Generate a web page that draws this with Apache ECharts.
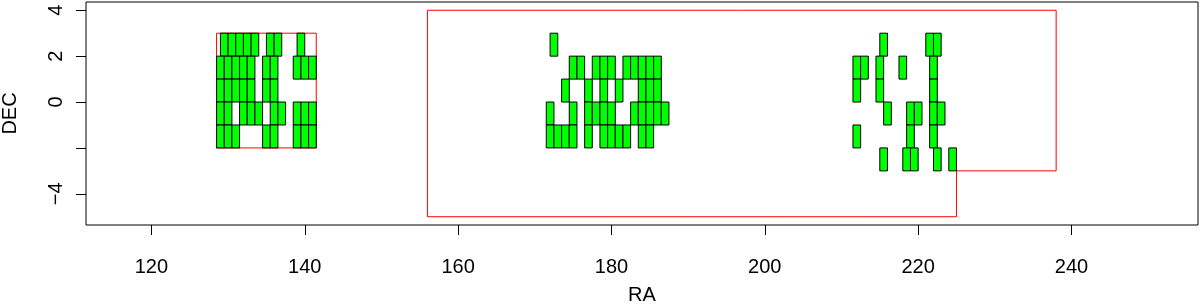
<!DOCTYPE html>
<html><head><meta charset="utf-8">
<script src="https://cdn.jsdelivr.net/npm/echarts@6/dist/echarts.min.js"></script>
<style>html,body{margin:0;padding:0;background:#fff}#c{width:1200px;height:305px}</style>
</head><body><div id="c"></div>
<script>
// Field (tile) size in degrees
const FIELD_W = 1;
const FIELD_H = 1;
// Left-edge RA of each observed field, per DEC row (row named by its lower DEC edge)
const raDecP2 = [129,130,131,132,133,135,136,139, 172, 215,221,222];
const raDecP1 = [128.5,129.5,130.5,131.5,132.5,134.5,135.5,138.5,139.5,140.5,
                 174.5,175.5,177.5,178.5,179.5,181.5,182.5,183.5,184.5,185.5,
                 211.5,212.5,214.5,217.5,221.5];
const raDec0  = [128.5,129.5,130.5,131.5,132.5,134.5,135.5,
                 173.5,176.5,178.5,180.5,183.5,184.5,185.5,
                 211.5,214.5,221.5];
const raDecM1 = [128.5,129.5,131.5,132.5,133.5,135.5,136.5,138.5,139.5,140.5,
                 171.5,174.5,176.5,177.5,178.5,179.5,182.5,183.5,184.5,185.5,186.5,
                 215.5,218.5,219.5,221.5,222.5];
const raDecM2 = [128.5,129.5,130.5,134.5,135.5,138.5,139.5,140.5,
                 171.5,172.5,173.5,174.5,176.5,178.5,179.5,180.5,181.5,183.5,184.5,
                 211.5,218.5,221.5];
const raDecM3 = [215,218,219,222,224];
const rowDecs = [2, 1, 0, -1, -2, -3];
const rowRAs  = [raDecP2, raDecP1, raDec0, raDecM1, raDecM2, raDecM3];

// Survey outlines (red)
const box1RA  = [128.5,141.5,141.5,128.5,128.5];
const box1Dec = [3,3,-2,-2,3];
const box2RA  = [156,238,238,225,225,156,156];
const box2Dec = [4,4,-3,-3,-5,-5,4];

// Axes
const xTicks  = [120,140,160,180,200,220,240];
const yTicks  = [-4,-2,0,2,4];
const yLabels = [-4,0,2,4];
const xRange = [111.47, 256.5];
const yRange = [-5.36, 4.36];

const fields = [];
rowDecs.forEach((d, i) => rowRAs[i].forEach(ra => fields.push([ra, ra + FIELD_W, d, d + FIELD_H])));

const FONT = 'Liberation Sans';
const FS = 20;
const chart = echarts.init(document.getElementById('c'), null, {renderer: 'canvas'});
chart.setOption({
  animation: false,
  backgroundColor: '#fff',
  grid: {left: 86, right: 2, top: 2, bottom: 80, show: true, borderColor: '#000', borderWidth: 1,
         outerBoundsMode: 'none', containLabel: false},
  xAxis: {
    type: 'value', min: xRange[0], max: xRange[1],
    axisLine: {show: false, onZero: false},
    axisTick: {show: true, length: 10, customValues: xTicks, lineStyle: {color: '#000', width: 1}},
    axisLabel: {customValues: xTicks, margin: 32, fontSize: FS, fontFamily: FONT, color: '#000'},
    splitLine: {show: false},
    name: 'RA', nameLocation: 'middle', nameGap: 60,
    nameTextStyle: {fontSize: FS, fontFamily: FONT, color: '#000'}
  },
  yAxis: {
    type: 'value', min: yRange[0], max: yRange[1],
    axisLine: {show: false, onZero: false},
    axisTick: {show: true, length: 10, customValues: yTicks, lineStyle: {color: '#000', width: 1}},
    axisLabel: {customValues: yLabels, rotate: 90, margin: 20, fontSize: FS, fontFamily: FONT, color: '#000',
      formatter: v => String(v).replace('-', '\u2212')},
    splitLine: {show: false},
    name: 'DEC', nameLocation: 'middle', nameGap: 66,
    nameTextStyle: {fontSize: FS, fontFamily: FONT, color: '#000'}
  },
  series: [
    {type: 'line', data: box1RA.map((x, i) => [x, box1Dec[i]]), symbol: 'none',
     lineStyle: {color: '#ff0000', width: 1}, z: 1, silent: true},
    {type: 'line', data: box2RA.map((x, i) => [x, box2Dec[i]]), symbol: 'none',
     lineStyle: {color: '#ff0000', width: 1}, z: 1, silent: true},
    {type: 'custom', data: fields, z: 2,
     renderItem: (params, api) => {
       const p0 = api.coord([api.value(0), api.value(3)]);
       const p1 = api.coord([api.value(1), api.value(2)]);
       return {type: 'rect', shape: {x: p0[0], y: p0[1], width: p1[0] - p0[0], height: p1[1] - p0[1]},
               style: {fill: '#00ff00', stroke: '#000', lineWidth: 1}};
     }}
  ]
});
</script></body></html>
